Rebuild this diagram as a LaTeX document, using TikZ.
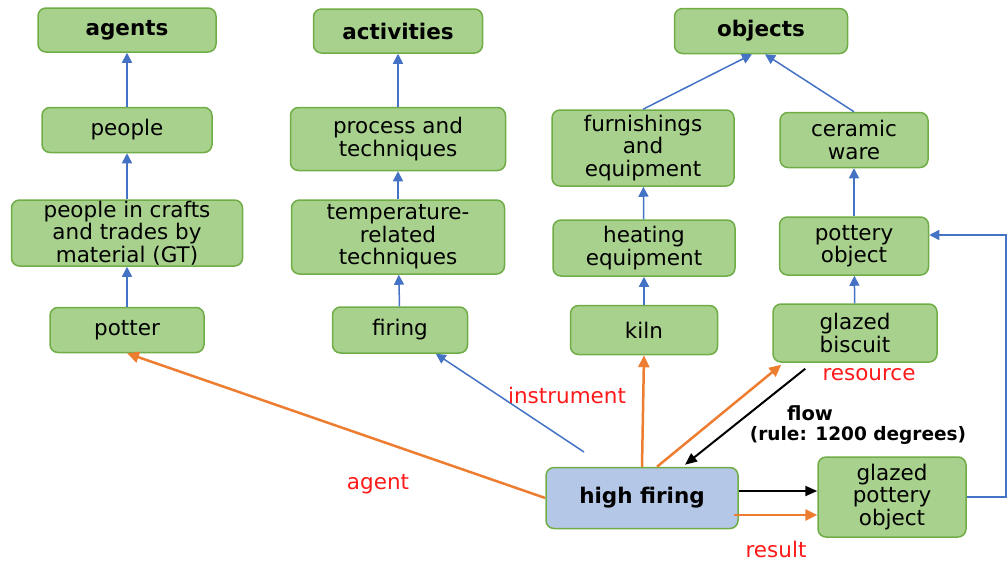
\documentclass[tikz,border=0pt]{standalone}
\usepackage{fontspec}
\setmainfont{DejaVu Sans}
\usetikzlibrary{arrows.meta}
\definecolor{boxgreen}{HTML}{A9D18E}
\definecolor{edgegreen}{HTML}{70AD47}
\definecolor{boxblue}{HTML}{B4C7E7}
\definecolor{isablue}{HTML}{4472C4}
\definecolor{roleorange}{HTML}{ED7D31}
\definecolor{rolered}{HTML}{FF1A1A}
\tikzset{
  box/.style={draw=edgegreen, fill=boxgreen, line width=1.5pt, rounded corners=8pt,
    align=center, inner xsep=2pt, inner ysep=0pt, font=\fontsize{21.5}{22.5}\selectfont},
  topbox/.style={box, font=\fontsize{21.5}{22.5}\selectfont\bfseries},
  isa/.style={draw=isablue, line width=1.5pt, -{Triangle[length=10pt,width=10pt]}},
  role/.style={draw=roleorange, line width=2.5pt, -{Triangle[length=12pt,width=11pt]}},
  flowarr/.style={draw=black, line width=2pt, -{Triangle[length=12pt,width=10pt]}},
  rolelabel/.style={text=rolered, font=\fontsize{21.5}{22.5}\selectfont}
}
\begin{document}
\begin{tikzpicture}[x=1pt,y=-1pt]
 \useasboundingbox (0,0) rectangle (1008,563);
 % agents column
 \node[topbox, minimum width=178pt, minimum height=44pt] (agents) at (127,30) {agents};
 \node[box, minimum width=170pt, minimum height=45pt] (people) at (127,130) {people};
 \node[box, minimum width=231pt, minimum height=66pt] (crafts) at (127,233) {people in crafts\\and trades by\\material (GT)};
 \node[box, minimum width=154pt, minimum height=45pt] (potter) at (127,330) {potter};
 % activities column
 \node[topbox, minimum width=169pt, minimum height=44pt] (activities) at (398,31) {activities};
 \node[box, minimum width=215pt, minimum height=63pt] (process) at (398,139) {process and\\techniques};
 \node[box, minimum width=213pt, minimum height=74pt] (temp) at (398,237) {temperature-\\related\\techniques};
 \node[box, minimum width=135pt, minimum height=46pt] (firing) at (400,330) {firing};
 % objects columns
 \node[topbox, minimum width=173pt, minimum height=45pt] (objects) at (761,31) {objects};
 \node[box, minimum width=182pt, minimum height=76pt] (furnish) at (643,148) {furnishings\\and\\equipment};
 \node[box, minimum width=148pt, minimum height=55pt] (ceramic) at (854,140) {ceramic\\ware};
 \node[box, minimum width=182pt, minimum height=56pt] (heating) at (644,248) {heating\\equipment};
 \node[box, minimum width=149pt, minimum height=58pt] (pottery) at (854,246) {pottery\\object};
 \node[box, minimum width=147pt, minimum height=49pt] (kiln) at (644,330) {kiln};
 \node[box, minimum width=164pt, minimum height=58pt] (biscuit) at (855,333) {glazed\\biscuit};
 % event and result
 \node[topbox, fill=boxblue, minimum width=192pt, minimum height=61pt] (high) at (642,498) {high firing};
 \node[box, minimum width=148pt, minimum height=80pt] (glazedpot) at (892,497) {glazed\\pottery\\object};
 \coordinate (hightop) at (584,452);

 % is-a links
 \draw[isa] (people) -- (agents);
 \draw[isa] (crafts) -- (people);
 \draw[isa] (potter) -- (crafts);
 \draw[isa] (process) -- (activities);
 \draw[isa] (temp) -- (process);
 \draw[isa] (firing) -- (temp);
 \draw[isa] (furnish.north) -- ([xshift=-9pt]objects.south);
 \draw[isa] (ceramic.north) -- ([xshift=4pt]objects.south);
 \draw[isa] (heating) -- (furnish);
 \draw[isa] (kiln) -- (heating);
 \draw[isa] (pottery) -- (ceramic);
 \draw[isa] (biscuit) -- (pottery);
 \draw[isa] (hightop) -- (firing);
 \draw[isa] (glazedpot.east) -- ++(39,0) |- ([yshift=11pt]pottery.east);

 % roles
 \draw[role] (high.west) -- (potter.south);
 \draw[role] (high.north) -- (kiln.south);
 \draw[role] ([xshift=15pt]high.north) -- ([xshift=9pt,yshift=-2pt]biscuit.south west);
 \draw[role] ([xshift=-5pt,yshift=-17pt]high.east) -- ([yshift=-17pt]high.east -| glazedpot.west);
 \draw[flowarr] ([xshift=33pt,yshift=-6pt]biscuit.south west) -- ([xshift=43pt,yshift=2pt]high.north);
 \draw[flowarr] ([yshift=7pt]high.east) -- ([yshift=7pt]high.east -| glazedpot.west);

 % labels
 \node[rolelabel] (instrlbl) at (567,395) {instrument};
 \node[rolelabel] (agentlbl) at (378,484) {agent};
 \node[rolelabel] (reslbl) at (869,375) {resource};
 \node[rolelabel] (resultlbl) at (776,549) {result};
 \node[font=\fontsize{19.5}{20}\selectfont\bfseries] (flowlbl) at (810,413) {flow};
 \node[font=\fontsize{18.5}{20}\selectfont\bfseries] (rulelbl) at (858,435) {(rule: 1200 degrees)};
\end{tikzpicture}
\end{document}
